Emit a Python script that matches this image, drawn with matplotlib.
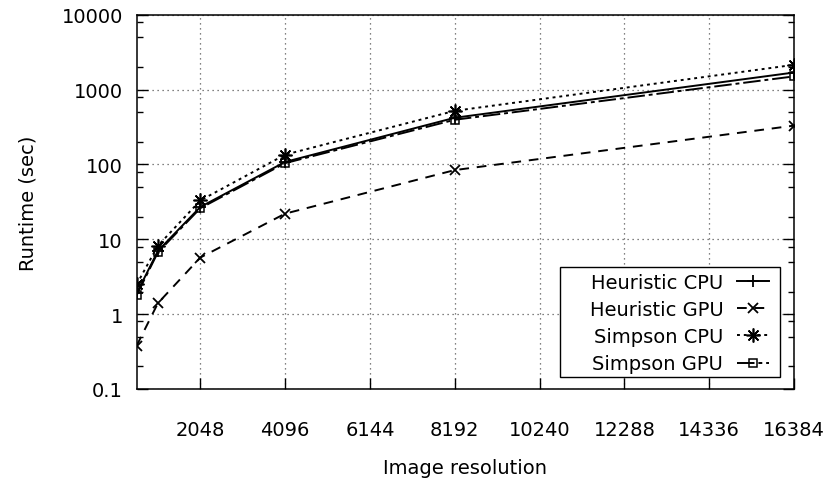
import numpy as np
import matplotlib
matplotlib.use("Agg")
from matplotlib import pyplot as plt
from matplotlib.patches import Rectangle
from matplotlib.ticker import FixedLocator, NullFormatter

# image resolution (pixels per side)
resolution = [512, 1024, 2048, 4096, 8192, 16384]

# runtime in seconds
heuristic_cpu = [1.9, 7.0, 27, 108, 420, 1690]
heuristic_gpu = [0.38, 1.4, 5.7, 22, 84, 330]
simpson_cpu = [2.5, 8.2, 33, 135, 520, 2140]
simpson_gpu = [1.8, 6.7, 26, 104, 395, 1500]

xticks = [2048, 4096, 6144, 8192, 10240, 12288, 14336, 16384]
yticks = [0.1, 1, 10, 100, 1000, 10000]
ytick_labels = ["0.1", "1", "10", "100", "1000", "10000"]

plt.rcParams["font.family"] = ["DejaVu Sans"]
plt.rcParams["font.size"] = 14

fig = plt.figure(figsize=(8.3, 4.85), dpi=100)
ax = fig.add_axes([0.1647, 0.1959, 0.7919, 0.7717])

ax.plot(resolution, heuristic_cpu, color="black", lw=1.4, ls="-",
        marker="+", ms=9, mew=1.3, label="Heuristic CPU")
ax.plot(resolution, heuristic_gpu, color="black", lw=1.4, ls=(0, (5, 4)),
        marker="x", ms=7, mew=1.3, label="Heuristic GPU")
ax.plot(resolution, simpson_cpu, color="black", lw=1.4, ls=(0, (1.5, 2)),
        marker=(8, 2, 0), ms=10, mew=1.2, label="Simpson CPU")
ax.plot(resolution, simpson_gpu, color="black", lw=1.4, ls=(0, (9, 2, 2, 2)),
        marker="s", ms=6, mew=1.1, mfc="none", label="Simpson GPU")

ax.set_yscale("log")
ax.set_xlim(512, 16384)
ax.set_ylim(0.1, 10000)

ax.set_xticks(xticks)
ax.set_xticklabels([str(v) for v in xticks])
ax.set_yticks(yticks)
ax.set_yticklabels(ytick_labels)

minor = []
for dec in [0.1, 1, 10, 100, 1000]:
    minor += [2 * dec, 5 * dec, 8 * dec]
ax.yaxis.set_minor_locator(FixedLocator(minor))
ax.yaxis.set_minor_formatter(NullFormatter())

ax.tick_params(axis="x", which="major", direction="in", length=8, width=1,
               pad=22, top=False)
ax.tick_params(axis="y", which="major", direction="in", length=8, width=1,
               pad=10, right=True)
ax.tick_params(axis="y", which="minor", direction="in", length=4.5, width=1,
               right=True)

for s in ax.spines.values():
    s.set_linewidth(1.1)

ax.grid(True, which="major", color="0.35", ls=(0, (1, 3)), lw=0.9)

ax.set_xlabel("Image resolution", labelpad=14)
ax.set_ylabel("Runtime (sec)", labelpad=17)

# gnuplot-style key box: wider on the left than the entries need
box = Rectangle((0.644, 0.031), 0.335, 0.294, transform=ax.transAxes,
                facecolor="white", edgecolor="black", lw=1.0, zorder=4)
ax.add_patch(box)

leg = ax.legend(loc="center right", bbox_to_anchor=(0.962, 0.176),
                borderaxespad=0, borderpad=0, markerfirst=False,
                frameon=False, handlelength=1.65, handletextpad=0.7,
                labelspacing=0.42, fontsize=14)
leg.set_zorder(5)

fig.savefig("out.png", dpi=100)
